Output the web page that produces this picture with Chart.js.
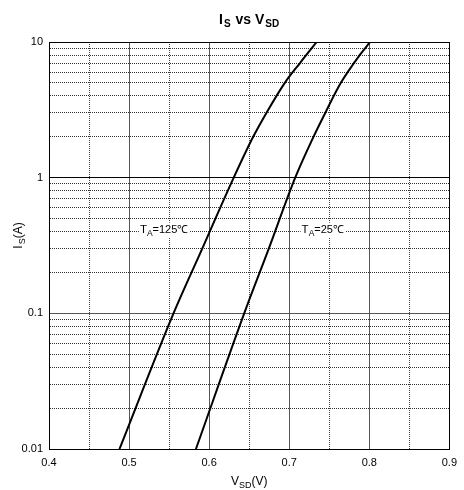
<!DOCTYPE html>
<html><head><meta charset="utf-8">
<script src="https://cdn.jsdelivr.net/npm/chart.js@4/dist/chart.umd.min.js"></script>
<style>html,body{margin:0;padding:0;background:#fff}#wrap{width:464px;height:490px;position:relative}</style>
</head><body><div id="wrap"><canvas id="c"></canvas></div>
<script>
// Data: V_SD (V) vs I_S (A)
const vsd125 = [0.488, 0.5555, 0.5914, 0.6307, 0.655, 0.6715, 0.6945, 0.7135, 0.7343];
const is125  = [0.01,  0.1,    0.3,    1,      2,     3,      5,      7,      10];
const vsd25  = [0.5835, 0.6438, 0.6745, 0.7075, 0.7303, 0.745, 0.7645, 0.788, 0.8011];
const is25   = [0.01,   0.1,    0.3,    1,      2,      3,     5,      8,     10];
const seriesNames = ['125', '25'];
const xGridValues = [0.4,0.45,0.5,0.55,0.6,0.65,0.7,0.75,0.8,0.85,0.9];
const xTickLabels = ['0.4','0.5','0.6','0.7','0.8','0.9'];
const yGridValues = [0.01,0.02,0.03,0.04,0.05,0.06,0.07,0.08,0.09,
                     0.1,0.2,0.3,0.4,0.5,0.6,0.7,0.8,0.9,
                     1,2,3,4,5,6,7,8,9,10];
const yTickLabels = ['0.01','0.1','1','10'];
const labelAnchors = [{v:0.5135, i:0.40}, {v:0.7155, i:0.40}];

const FONT = '"Liberation Sans", Arial, sans-serif';
const near = (a,b)=>Math.abs(a-b)<1e-6;
const xLabelFor = v => xTickLabels.find(l=>near(parseFloat(l),v)) || '';
const yLabelFor = v => yTickLabels.find(l=>near(Math.log10(parseFloat(l)),Math.log10(v))) || '';

function xGridColor(c){ if(!c.tick) return '#000'; const v=c.tick.value; if(near(v,0.4)||near(v,0.9)) return '#000'; return xLabelFor(v)? '#555' : '#444'; }
function xDash(c){ if(!c.tick) return []; return xLabelFor(c.tick.value)? [] : [1,1]; }
function yGridColor(c){ if(!c.tick) return '#000'; const v=c.tick.value; if(near(v,10)||near(v,0.01)||near(v,1)) return '#000'; return yLabelFor(v)? '#555' : '#333'; }
function yDash(c){ if(!c.tick) return []; return yLabelFor(c.tick.value)? [] : [1,1]; }

function drawRich(ctx, parts, x, y, align){
  let w=0;
  parts.forEach(p=>{ctx.font=(p.bold?'bold ':'')+p.size+'px '+FONT; p.w=ctx.measureText(p.t).width + (p.gap||0); w+=p.w;});
  let cx = align==='left'? x : x - w/2;
  const start=cx;
  parts.forEach(p=>{ctx.font=(p.bold?'bold ':'')+p.size+'px '+FONT; ctx.fillText(p.t, cx, y+(p.dy||0)); cx+=p.w;});
  return {x:start, w:w};
}

const textPlugin = {
  id:'textPlugin',
  beforeDatasetsDraw(chart){
    const ctx=chart.ctx, xs=chart.scales.x, ys=chart.scales.y;
    ctx.save();
    ctx.fillStyle='#000'; ctx.textBaseline='alphabetic'; ctx.textAlign='left';
    labelAnchors.forEach((a,k)=>{
      const px=xs.getPixelForValue(a.v), py=ys.getPixelForValue(a.i)+1;
      const parts=[{t:'T',size:11.5},{t:'A',size:8.5,dy:3},{t:'='+seriesNames[k]+'\u2103',size:11}];
      let w=0; parts.forEach(p=>{ctx.font=p.size+'px '+FONT; w+=ctx.measureText(p.t).width;});
      ctx.fillStyle='#fff'; ctx.fillRect(px-1, py-10, w+2, 15);
      ctx.fillStyle='#000';
      drawRich(ctx, parts, px, py, 'left');
    });
    ctx.restore();
  },
  afterDraw(chart){
    const ctx=chart.ctx, a=chart.chartArea;
    ctx.save(); ctx.fillStyle='#000'; ctx.textBaseline='alphabetic'; ctx.textAlign='left';
    const cx=(a.left+a.right)/2;
    drawRich(ctx,[{t:'I',size:14,bold:true,gap:1},{t:'S',size:10,bold:true,dy:3.5,gap:1},{t:' vs V',size:14,bold:true,gap:1},{t:'SD',size:10,bold:true,dy:3.5}], cx, 23.5, 'center');
    drawRich(ctx,[{t:'V',size:12},{t:'SD',size:9,dy:3},{t:'(V)',size:12}], cx, 485, 'center');
    ctx.translate(22, (a.top+a.bottom)/2 - 10);
    ctx.rotate(-Math.PI/2);
    drawRich(ctx,[{t:'I',size:12,gap:1},{t:'S',size:9,dy:3},{t:'(A)',size:12}], 0, 0, 'center');
    ctx.restore();
  }
};

new Chart(document.getElementById('c'), {
  type:'line',
  data:{datasets:[
    {label:'TA=125', data: vsd125.map((v,i)=>({x:v,y:is125[i]})), borderColor:'#000', borderWidth:2, pointRadius:0, fill:false, cubicInterpolationMode:'monotone'},
    {label:'TA=25', data: vsd25.map((v,i)=>({x:v,y:is25[i]})), borderColor:'#000', borderWidth:2, pointRadius:0, fill:false, cubicInterpolationMode:'monotone'}
  ]},
  options:{
    responsive:true, maintainAspectRatio:false, animation:false,
    layout:{padding:{top:42,right:10,left:0,bottom:0}},
    plugins:{legend:{display:false}, title:{display:false}, tooltip:{enabled:false}},
    scales:{
      x:{type:'linear', min:0.4, max:0.9,
        afterBuildTicks:s=>{s.ticks=xGridValues.map(v=>({value:v}));},
        afterFit:s=>{s.height=41;},
        ticks:{autoSkip:false, maxRotation:0, padding:7, color:'#000', font:{family:FONT,size:11}, callback:v=>xLabelFor(v)},
        grid:{drawTicks:false, color:xGridColor, lineWidth:1},
        border:{display:true, color:'#000', width:1, dash:xDash}
      },
      y:{type:'logarithmic', min:0.01, max:10,
        afterBuildTicks:s=>{s.ticks=yGridValues.map(v=>({value:v}));},
        afterFit:s=>{s.width=49;},
        ticks:{autoSkip:false, padding:6, color:'#000', font:{family:FONT,size:11}, callback:v=>yLabelFor(v)},
        grid:{drawTicks:false, color:yGridColor, lineWidth:1},
        border:{display:true, color:'#000', width:1, dash:yDash}
      }
    }
  },
  plugins:[textPlugin]
});
</script></body></html>
